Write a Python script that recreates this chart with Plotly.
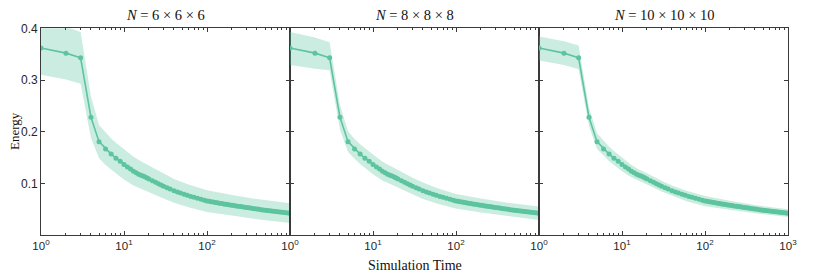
import plotly.graph_objects as go

# ---------------- data ----------------
panel_titles = ["<i>N</i> = 6 × 6 × 6", "<i>N</i> = 8 × 8 × 8", "<i>N</i> = 10 × 10 × 10"]

sim_time = [1, 2, 3, 4, 5, 6, 7, 8, 9, 10, 11, 12, 13, 14, 15, 16, 17, 18, 19, 20,
            22, 24, 26, 28, 30, 33, 36, 40, 44, 48, 53, 58, 64, 70, 77, 85, 93, 100,
            106, 112, 119, 126, 133, 141, 150, 159, 168, 178, 189, 200, 212, 224, 238,
            252, 267, 283, 300, 318, 337, 357, 378, 400, 424, 449, 476, 504, 534, 566,
            600, 636, 674, 714, 757, 802, 850, 900, 954, 1000]

mean_energy = [0.362, 0.352, 0.343, 0.228, 0.181, 0.167, 0.157, 0.149, 0.143, 0.137,
               0.132, 0.128, 0.124, 0.121, 0.118, 0.116, 0.1145, 0.1125, 0.1105, 0.109,
               0.1055, 0.1025, 0.0995, 0.097, 0.0948, 0.092, 0.0893, 0.086, 0.0837, 0.0815,
               0.0792, 0.0772, 0.0752, 0.0734, 0.0715, 0.0697, 0.0679, 0.0665,
               0.0658, 0.0650, 0.0642, 0.0635, 0.0628, 0.0621, 0.0614, 0.0607, 0.0600,
               0.0593, 0.0586, 0.0580, 0.0574, 0.0568, 0.0562, 0.0556, 0.0550, 0.0544,
               0.0538, 0.0532, 0.0526, 0.0520, 0.0514, 0.0508, 0.0502, 0.0496, 0.0490,
               0.0484, 0.0478, 0.0473, 0.0468, 0.0463, 0.0458, 0.0453, 0.0448, 0.0444,
               0.0440, 0.0436, 0.0432, 0.0428]

band_time = [1, 2, 3, 4, 5, 6, 7, 8, 10, 13, 16, 20, 30, 40, 60, 100, 200, 400, 1000]

band_hi_6 = [0.414, 0.403, 0.393, 0.268, 0.213, 0.198, 0.187, 0.179, 0.166, 0.152,
             0.143, 0.135, 0.119, 0.109, 0.098, 0.087, 0.078, 0.070, 0.062]
band_lo_6 = [0.310, 0.301, 0.293, 0.188, 0.149, 0.136, 0.127, 0.119, 0.108, 0.096,
             0.089, 0.083, 0.071, 0.063, 0.054, 0.045, 0.038, 0.031, 0.024]

band_hi_8 = [0.393, 0.382, 0.373, 0.252, 0.201, 0.186, 0.176, 0.168, 0.156, 0.142,
             0.134, 0.126, 0.111, 0.102, 0.091, 0.080, 0.071, 0.0635, 0.0557]
band_lo_8 = [0.329, 0.322, 0.319, 0.204, 0.161, 0.148, 0.138, 0.130, 0.118, 0.106,
             0.098, 0.092, 0.079, 0.070, 0.061, 0.052, 0.044, 0.0375, 0.0297]

band_hi_10 = [0.384, 0.375, 0.367, 0.247, 0.197, 0.182, 0.171, 0.163, 0.150, 0.136,
              0.127, 0.120, 0.1055, 0.096, 0.086, 0.0758, 0.0667, 0.0585, 0.0502]
band_lo_10 = [0.338, 0.329, 0.321, 0.211, 0.167, 0.154, 0.143, 0.137, 0.124, 0.112,
              0.105, 0.098, 0.0845, 0.076, 0.066, 0.0562, 0.0487, 0.0425, 0.0352]

bands = [(band_hi_6, band_lo_6), (band_hi_8, band_lo_8), (band_hi_10, band_lo_10)]

y_ticks = [0.1, 0.2, 0.3, 0.4]
x_tick_vals = [1, 10, 100, 1000]
x_tick_text = ["10<sup>0</sup>", "10<sup>1</sup>", "10<sup>2</sup>", "10<sup>3</sup>"]

# ---------------- styling ----------------
# the page body has an 8px margin, so the figure is offset by 8px in the window
OFF = 8
W, H = 830 - OFF, 277 - OFF
LINE = "rgb(92,196,158)"
FILL = "rgba(92,196,158,0.32)"
AXC = "#3a3a3a"
SERIF = "Liberation Serif, Times New Roman, serif"
SANS = "Liberation Sans, Arial, sans-serif"

left_px = [41 - OFF, 290 - OFF, 539 - OFF]
pw = 249
top_px, bot_px = 28.3 - OFF, 235.3 - OFF

minor_vals = [m * d for d in (1, 10, 100) for m in range(2, 10)]

fig = go.Figure()
layout = dict(width=W, height=H, margin=dict(l=0, r=0, t=0, b=0, autoexpand=False),
              paper_bgcolor="white", plot_bgcolor="white", showlegend=False,
              template="none", annotations=[])

for i in range(3):
    xa = "x" if i == 0 else f"x{i+1}"
    ya = "y" if i == 0 else f"y{i+1}"
    hi, lo = bands[i]
    fig.add_trace(go.Scatter(x=band_time + band_time[::-1], y=hi + lo[::-1],
                             fill="toself", fillcolor=FILL, line=dict(width=0),
                             mode="lines", hoverinfo="skip", xaxis=xa, yaxis=ya))
    fig.add_trace(go.Scatter(x=sim_time, y=mean_energy, mode="lines+markers",
                             line=dict(color=LINE, width=1.6),
                             marker=dict(color=LINE, size=5),
                             xaxis=xa, yaxis=ya))
    x0 = left_px[i] / W
    x1 = (left_px[i] + pw) / W
    if i < 2:
        tv, tt = x_tick_vals[:3], x_tick_text[:3]
    else:
        tv, tt = x_tick_vals, x_tick_text
    xkey = "xaxis" if i == 0 else f"xaxis{i+1}"
    ykey = "yaxis" if i == 0 else f"yaxis{i+1}"
    layout[xkey] = dict(type="log", range=[0, 3], domain=[x0, min(x1, 1.0)], anchor=ya,
                        automargin=False,
                        tickvals=tv, ticktext=tt, ticks="inside", ticklen=4,
                        tickcolor=AXC, showline=True, linecolor=AXC, linewidth=0.8,
                        mirror="allticks", showgrid=False, zeroline=False,
                        tickfont=dict(family=SANS, size=11.5, color="#262626"),
                        minor=dict(tickvals=minor_vals, ticks="inside", ticklen=2,
                                   tickcolor=AXC, showgrid=False))
    layout[ykey] = dict(range=[0, 0.4], domain=[1 - bot_px / H, 1 - top_px / H],
                        anchor=xa, automargin=False, tickvals=y_ticks, ticks="inside",
                        ticklen=4, tickcolor=AXC, showline=True, linecolor=AXC,
                        linewidth=0.8, mirror="allticks", showgrid=False, zeroline=False,
                        showticklabels=(i == 0),
                        tickfont=dict(family=SANS, size=12, color="#262626"))
    layout["annotations"].append(dict(text=panel_titles[i], xref="paper", yref="paper",
                                      x=(left_px[i] + pw / 2) / W, y=1 - (15 - OFF) / H,
                                      showarrow=False, xanchor="center", yanchor="middle",
                                      font=dict(family=SERIF, size=14.5, color="#111")))

layout["annotations"].append(dict(text="Simulation Time", xref="paper", yref="paper",
                                  x=(414.5 - OFF) / W, y=1 - (265 - OFF) / H,
                                  showarrow=False, xanchor="center", yanchor="middle",
                                  font=dict(family=SERIF, size=14, color="#111")))
layout["annotations"].append(dict(text="Energy", xref="paper", yref="paper",
                                  x=(14 - OFF) / W, y=1 - (131 - OFF) / H, showarrow=False,
                                  textangle=-90, xanchor="center", yanchor="middle",
                                  font=dict(family=SERIF, size=13, color="#111")))

fig.update_layout(**layout)
fig.write_html("out.html")
